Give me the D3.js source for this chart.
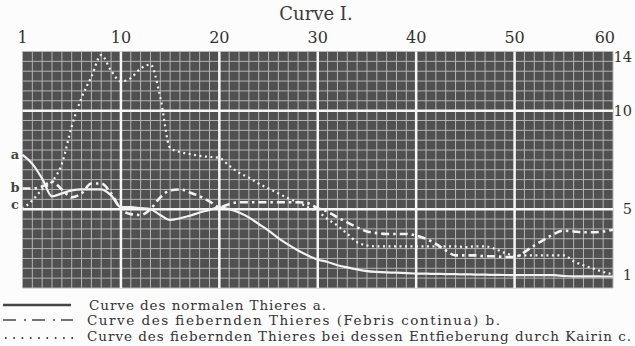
<!DOCTYPE html>
<html>
<head>
<meta charset="utf-8">
<script src="https://cdn.jsdelivr.net/npm/d3@7"></script>
<style>
  body { margin: 0; background: #fcfcfc; }
  svg { display: block; font-family: "DejaVu Serif", serif; }
</style>
</head>
<body>
<div id="container"></div>
<script>
/* CONSTANTS AND GLOBALS */
const width = 635,
  height = 346,
  plot = { left: 22.5, right: 613, top: 51.5, bottom: 288 },
  rows = 24;

/* DATA */
const days = [0,1,2,3,4,5,6,7,8,9,10,11,12,13,14,15,16,17,18,19,20,
  21,22,23,24,25,26,27,28,29,30,31,32,33,34,35,36,37,38,39,40,
  41,42,43,44,45,46,47,48,49,50,51,52,53,54,55,56,57,58,59,60];

// a: normal animal
const normal = [7.75,7.3,6.55,5.65,5.8,5.95,6.0,6.0,6.0,5.7,5.1,
  5.1,5.05,5.0,4.65,4.35,4.45,4.6,4.8,4.95,5.1,
  5.0,4.8,4.5,4.1,3.7,3.25,2.85,2.5,2.2,1.95,
  1.8,1.6,1.47,1.35,1.25,1.2,1.17,1.15,1.12,1.1,
  1.09,1.08,1.07,1.06,1.05,1.04,1.03,1.02,1.01,1.0,
  1.0,1.0,1.0,1.0,0.95,0.93,0.93,0.93,0.92,0.92];

// b: febrile animal (Febris continua)
const febris = [6.05,6.05,6.15,6.4,6.0,5.6,5.8,6.3,6.3,5.8,5.0,
  4.7,4.65,5.0,5.6,5.95,6.0,5.85,5.65,5.4,5.1,
  5.25,5.35,5.35,5.35,5.35,5.35,5.35,5.35,5.3,5.05,
  4.85,4.5,4.2,3.9,3.65,3.55,3.5,3.5,3.5,3.4,
  3.2,2.9,2.5,2.2,2.2,2.2,2.15,2.15,2.1,2.1,
  2.4,2.8,3.15,3.5,3.7,3.65,3.6,3.6,3.65,3.75];

// c: febrile animal treated with Kairin
const kairin = [5.0,5.45,6.0,6.4,7.3,9.2,10.95,12.5,14.1,12.95,12.15,
  12.4,13.1,13.4,11.0,8.1,7.9,7.8,7.7,7.65,7.6,
  7.2,6.85,6.6,6.3,6.05,5.8,5.55,5.35,5.1,4.85,
  4.4,4.0,3.5,3.0,2.8,2.75,2.75,2.75,2.75,2.75,
  2.75,2.75,2.75,2.75,2.7,2.75,2.75,2.6,2.35,2.2,
  2.2,2.2,2.2,2.2,2.2,1.85,1.6,1.4,1.2,1.05];

const xTickDays = [0, 10, 20, 30, 40, 50, 60];
const xTickLabels = ["1", "10", "20", "30", "40", "50", "60"];
const yTickValues = [14, 10, 5, 1];
const yMajorValues = [10, 5];
const curveNames = ["a", "b", "c"];
const legendTexts = [
  "Curve des normalen Thieres a.",
  "Curve des fiebernden Thieres (Febris continua) b.",
  "Curve des fiebernden Thieres bei dessen Entfieberung durch Kairin c."
];

/* SCALES */
const xScale = d3.scaleLinear()
  .domain([0, 60])
  .range([plot.left, plot.right]);

// grid rows of the paper
const rowScale = d3.scaleLinear()
  .domain([0, rows])
  .range([plot.top, plot.bottom]);

// the printed value scale is not even, so map it piece by piece onto the rows
const yScale = d3.scaleLinear()
  .domain([1, 5, 10, 14])
  .range([rowScale(22.7), rowScale(16), rowScale(6), rowScale(0.5)]);

/* DRAW */
const svg = d3.select("#container")
  .append("svg")
  .attr("width", width)
  .attr("height", height);

// title
svg.append("text")
  .attr("x", 316)
  .attr("y", 20)
  .attr("text-anchor", "middle")
  .attr("font-size", 18)
  .attr("fill", "#3a3a3a")
  .text("Curve I.");

// paper
svg.append("rect")
  .attr("x", plot.left)
  .attr("y", plot.top)
  .attr("width", plot.right - plot.left)
  .attr("height", plot.bottom - plot.top)
  .attr("fill", "#505050");

const grid = svg.append("g");

// minor grid
grid.selectAll(".vminor")
  .data(days)
  .join("line")
  .attr("x1", d => xScale(d))
  .attr("x2", d => xScale(d))
  .attr("y1", plot.top)
  .attr("y2", plot.bottom)
  .attr("stroke", "#b4b4b4")
  .attr("stroke-width", 1);

grid.selectAll(".hminor")
  .data(d3.range(rows + 1))
  .join("line")
  .attr("x1", plot.left)
  .attr("x2", plot.right)
  .attr("y1", d => rowScale(d))
  .attr("y2", d => rowScale(d))
  .attr("stroke", "#b4b4b4")
  .attr("stroke-width", 1);

// major grid
grid.selectAll(".vmajor")
  .data(xTickDays.slice(1, -1))
  .join("line")
  .attr("x1", d => xScale(d))
  .attr("x2", d => xScale(d))
  .attr("y1", plot.top)
  .attr("y2", plot.bottom)
  .attr("stroke", "#f6f6f6")
  .attr("stroke-width", 2.5);

grid.selectAll(".hmajor")
  .data(yMajorValues)
  .join("line")
  .attr("x1", plot.left)
  .attr("x2", plot.right)
  .attr("y1", d => yScale(d))
  .attr("y2", d => yScale(d))
  .attr("stroke", "#f6f6f6")
  .attr("stroke-width", 2.5);

// top labels
svg.selectAll(".xlab")
  .data(xTickDays)
  .join("text")
  .attr("x", (d, i) => i === xTickDays.length - 1 ? xScale(d) + 2 : xScale(d))
  .attr("y", 43)
  .attr("text-anchor", (d, i) => i === xTickDays.length - 1 ? "end" : "middle")
  .attr("font-size", 16)
  .attr("fill", "#333")
  .text((d, i) => xTickLabels[i]);

// right labels
svg.selectAll(".ylab")
  .data(yTickValues)
  .join("text")
  .attr("x", 632)
  .attr("y", d => yScale(d))
  .attr("dy", "0.35em")
  .attr("text-anchor", "end")
  .attr("font-size", 14.5)
  .attr("fill", "#333")
  .text(d => d);

// curves
const series = [normal, febris, kairin];
const styles = [
  { width: 2.2, dash: null },
  { width: 2.6, dash: "8,4,2.5,4" },
  { width: 2.2, dash: "2,3.5" }
];

const line = d3.line()
  .x((d, i) => xScale(days[i]))
  .y(d => yScale(d))
  .curve(d3.curveMonotoneX);

svg.selectAll(".curve")
  .data(series)
  .join("path")
  .attr("d", d => line(d))
  .attr("fill", "none")
  .attr("stroke", "#f2f2f2")
  .attr("stroke-width", (d, i) => styles[i].width)
  .attr("stroke-dasharray", (d, i) => styles[i].dash);

// a, b, c at the start of each curve
const nameShift = [0, 0, -4];
svg.selectAll(".cname")
  .data(series)
  .join("text")
  .attr("x", 15)
  .attr("y", (d, i) => yScale(d[0]) + nameShift[i])
  .attr("dy", "0.3em")
  .attr("text-anchor", "middle")
  .attr("font-size", 13)
  .attr("font-weight", "bold")
  .attr("fill", "#444")
  .text((d, i) => curveNames[i]);

/* LEGEND */
const legendY = [305, 320, 336],
  legendLen = [237, 413, 544],
  legendX = [89, 87, 87];

const legend = svg.append("g");

legend.selectAll(".sample")
  .data(styles)
  .join("line")
  .attr("x1", (d, i) => i === 2 ? 5 : 3)
  .attr("x2", (d, i) => i === 0 ? 71 : 73)
  .attr("y1", (d, i) => legendY[i] + (i === 2 ? 2 : 0))
  .attr("y2", (d, i) => legendY[i] + (i === 2 ? 2 : 0))
  .attr("stroke", "#444")
  .attr("stroke-width", (d, i) => [2.6, 1.6, 2][i])
  .attr("stroke-dasharray", (d, i) => [null, "13,8,2,6", "1.6,6.7"][i]);

legend.selectAll(".ltext")
  .data(legendTexts)
  .join("text")
  .attr("x", (d, i) => legendX[i])
  .attr("y", (d, i) => legendY[i] + 4.5)
  .attr("font-size", 13.5)
  .attr("fill", "#333")
  .attr("textLength", (d, i) => legendLen[i])
  .attr("lengthAdjust", "spacing")
  .text(d => d);
</script>
</body>
</html>
